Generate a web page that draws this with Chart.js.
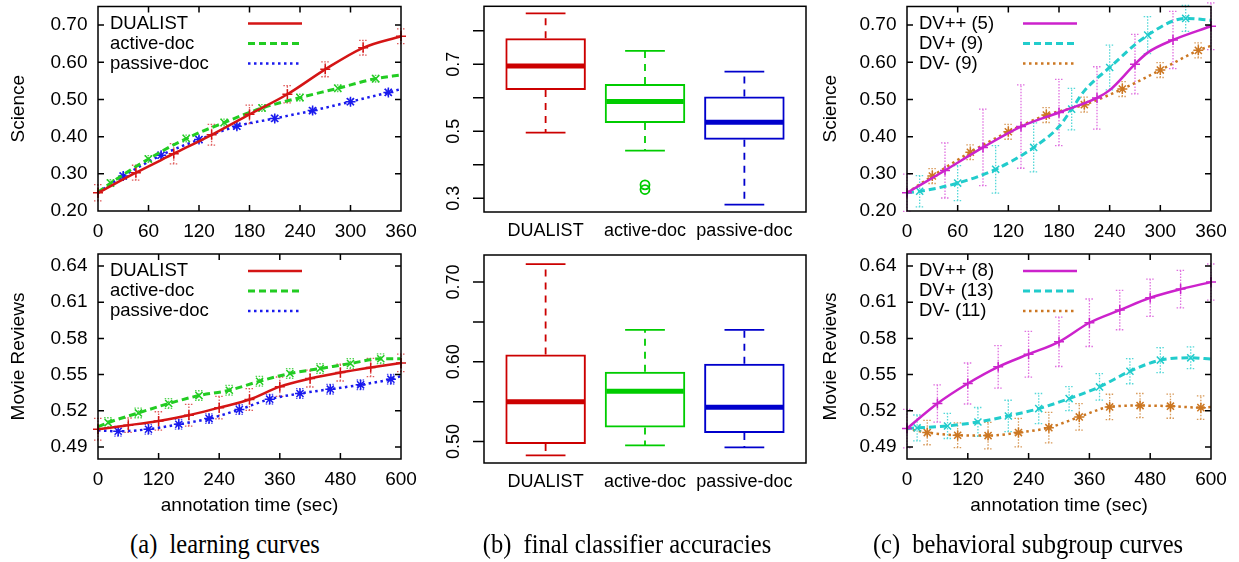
<!DOCTYPE html>
<html>
<head>
<meta charset="utf-8">
<script src="https://cdn.jsdelivr.net/npm/chart.js@4.4.0/dist/chart.umd.min.js"></script>
<style>
  body { margin: 0; background: #fff; width: 1239px; height: 562px; overflow: hidden; position: relative; }
  canvas { position: absolute; }
  .cap { position: absolute; top: 530px; font-family: "Liberation Serif", serif; font-size: 24.5px; white-space: nowrap; transform: translateX(-50%) scaleY(1.08); color: #000; }
</style>
</head>
<body>
<canvas id="sciCurves" width="430" height="245" style="left:0;top:0"></canvas>
<canvas id="movCurves" width="430" height="280" style="left:0;top:245px"></canvas>
<canvas id="sciBoxes" width="412" height="245" style="left:412px;top:0"></canvas>
<canvas id="movBoxes" width="412" height="280" style="left:412px;top:245px"></canvas>
<canvas id="sciGroups" width="427" height="245" style="left:812px;top:0"></canvas>
<canvas id="movGroups" width="427" height="280" style="left:812px;top:245px"></canvas>
<div class="cap" style="left:225px">(a)&nbsp; learning curves</div>
<div class="cap" style="left:627px">(b)&nbsp; final classifier accuracies</div>
<div class="cap" style="left:1028px">(c)&nbsp; behavioral subgroup curves</div>
<script>
// ---- tick labels ----
const sciTimeTicks = [0, 60, 120, 180, 240, 300, 360];
const movTimeTicks = [0, 120, 240, 360, 480, 600];
const sciAccTicks = [0.2, 0.3, 0.4, 0.5, 0.6, 0.7];
const movAccTicks = [0.49, 0.52, 0.55, 0.58, 0.61, 0.64];
const boxNames = ['DUALIST', 'active-doc', 'passive-doc'];
const sciBoxTicks = [0.3, 0.4, 0.5, 0.6, 0.7, 0.8];
const sciBoxTickLabels = ['0.3', '', '0.5', '', '0.7', ''];
const movBoxTicks = [0.50, 0.55, 0.60, 0.65, 0.70];
const movBoxTickLabels = ['0.50', '', '0.60', '', '0.70'];

// ---- (a) learning curves, Science ----
const sciDualX = [0, 45, 90, 135, 180, 225, 270, 315, 360];
const sciDualY = [0.249, 0.303, 0.354, 0.405, 0.460, 0.514, 0.581, 0.639, 0.670];
const sciDualErr = [0.022, 0.020, 0.027, 0.028, 0.025, 0.023, 0.020, 0.020, 0.020];
const sciActX = [0, 15, 60, 105, 150, 195, 240, 285, 330, 360];
const sciActY = [0.250, 0.275, 0.340, 0.395, 0.438, 0.477, 0.505, 0.530, 0.556, 0.566];
const sciActErr = [null, 0.009, 0.009, 0.009, 0.009, 0.009, 0.009, 0.009, 0.009, null];
const sciPasX = [0, 30, 75, 120, 165, 210, 255, 300, 345, 360];
const sciPasY = [0.250, 0.294, 0.350, 0.392, 0.428, 0.449, 0.470, 0.494, 0.519, 0.528];
const sciPasErr = [null, 0.008, 0.008, 0.008, 0.008, 0.008, 0.008, 0.008, 0.008, null];

// ---- (a) learning curves, Movie Reviews ----
const movDualX = [0, 60, 120, 180, 240, 300, 360, 420, 480, 540, 600];
const movDualY = [0.5047, 0.5080, 0.5116, 0.5163, 0.5226, 0.5293, 0.5400, 0.5467, 0.5517, 0.5559, 0.5597];
const movDualErr = [0.009, 0.006, 0.0076, 0.009, 0.0094, 0.009, 0.008, 0.007, 0.007, 0.0076, 0.0073];
const movActX = [0, 20, 80, 140, 200, 260, 320, 380, 440, 500, 560, 600];
const movActY = [0.5067, 0.5102, 0.5182, 0.5260, 0.5326, 0.5370, 0.5445, 0.5509, 0.5550, 0.5592, 0.5631, 0.5631];
const movActErr = [null, 0.004, 0.004, 0.004, 0.004, 0.004, 0.004, 0.004, 0.004, 0.004, 0.004, null];
const movPasX = [0, 40, 100, 160, 220, 280, 340, 400, 460, 520, 580, 600];
const movPasY = [0.5038, 0.5030, 0.5047, 0.5088, 0.5135, 0.5210, 0.5296, 0.5343, 0.5379, 0.5415, 0.5462, 0.5487];
const movPasErr = [null, 0.004, 0.004, 0.004, 0.004, 0.004, 0.004, 0.004, 0.004, 0.004, 0.004, null];

// ---- (b) final accuracies ----
const sciBoxMin = [0.496, 0.442, 0.281];
const sciBoxQ1 = [0.623, 0.525, 0.475];
const sciBoxMed = [0.695, 0.589, 0.527];
const sciBoxQ3 = [0.778, 0.641, 0.604];
const sciBoxMax = [0.852, 0.740, 0.678];
const sciOutX = [2, 2];
const sciOutY = [0.340, 0.326];
const movBoxMin = [0.4825, 0.495, 0.4925];
const movBoxQ1 = [0.4967, 0.5175, 0.5105];
const movBoxMed = [0.550, 0.563, 0.543];
const movBoxQ3 = [0.609, 0.5875, 0.5975];
const movBoxMax = [0.7226, 0.640, 0.640];

// ---- (c) subgroups, Science ----
const sciGppX = [0, 45, 90, 135, 180, 225, 240, 270, 285, 315, 360];
const sciGppY = [0.249, 0.309, 0.371, 0.427, 0.465, 0.504, 0.525, 0.595, 0.626, 0.660, 0.697];
const sciGppErr = [0.05, 0.074, 0.103, 0.112, 0.089, 0.084, null, 0.080, null, 0.077, 0.063];
const sciGpX = [0, 15, 60, 105, 150, 180, 195, 210, 240, 285, 330, 360];
const sciGpY = [0.249, 0.253, 0.275, 0.312, 0.371, 0.427, 0.474, 0.523, 0.586, 0.673, 0.718, 0.713];
const sciGpErr = [null, 0.042, 0.047, 0.064, 0.066, null, 0.056, null, 0.060, 0.050, 0.035, null];
const sciGmX = [0, 30, 75, 120, 165, 210, 255, 300, 345, 360];
const sciGmY = [0.249, 0.294, 0.358, 0.413, 0.458, 0.486, 0.528, 0.579, 0.632, 0.644];
const sciGmErr = [null, 0.02, 0.02, 0.02, 0.02, 0.02, 0.02, 0.02, 0.02, null];

// ---- (c) subgroups, Movie Reviews ----
const movGppX = [0, 60, 120, 180, 240, 300, 360, 420, 480, 540, 600];
const movGppY = [0.5052, 0.5260, 0.5426, 0.5564, 0.5669, 0.5772, 0.5930, 0.6035, 0.6137, 0.6209, 0.6267];
const movGppErr = [0.016, 0.0155, 0.017, 0.0177, 0.019, 0.0205, 0.0197, 0.0163, 0.0155, 0.0156, 0.015];
const movGpX = [0, 20, 80, 140, 200, 260, 320, 380, 440, 500, 560, 600];
const movGpY = [0.5052, 0.5058, 0.5074, 0.5107, 0.5157, 0.5218, 0.5301, 0.5398, 0.5528, 0.5620, 0.5639, 0.5628];
const movGpErr = [null, 0.0107, 0.0104, 0.012, 0.013, 0.0125, 0.010, 0.011, 0.0104, 0.0104, 0.009, null];
const movGmX = [0, 40, 100, 160, 220, 280, 340, 400, 460, 520, 580, 600];
const movGmY = [0.5052, 0.5019, 0.4997, 0.4994, 0.5019, 0.5060, 0.5149, 0.5232, 0.5243, 0.5238, 0.5226, 0.5232];
const movGmErr = [null, 0.0101, 0.0102, 0.011, 0.0118, 0.0126, 0.011, 0.0105, 0.010, 0.010, 0.0097, null];

Chart.defaults.font.family = '"Liberation Sans", Arial, sans-serif';
Chart.defaults.color = '#000';
Chart.defaults.animation = false;

const FONT = { size: 19 };

// error bars under the curves
const errorBars = {
  id: 'errorBars',
  beforeDatasetsDraw(chart) {
    const { ctx, scales: { x, y } } = chart;
    chart.data.datasets.forEach(ds => {
      if (!ds.errs) return;
      ctx.save();
      ctx.strokeStyle = ds.barColor;
      ctx.lineWidth = 1.3;
      ctx.setLineDash([1.5, 1.5]);
      ds.data.forEach((p, i) => {
        const e = ds.errs[i];
        if (e == null) return;
        const px = x.getPixelForValue(p.x);
        const lo = y.getPixelForValue(p.y - e);
        const hi = y.getPixelForValue(p.y + e);
        ctx.beginPath();
        ctx.moveTo(px, lo); ctx.lineTo(px, hi);
        ctx.moveTo(px - 4, lo); ctx.lineTo(px + 4, lo);
        ctx.moveTo(px - 4, hi); ctx.lineTo(px + 4, hi);
        ctx.stroke();
      });
      ctx.restore();
    });
  }
};

// gnuplot style border with ticks inside on all sides
const gnuFrame = {
  id: 'gnuFrame',
  afterDatasetsDraw(chart) {
    const { ctx, chartArea: a, scales: { x, y } } = chart;
    ctx.save();
    ctx.strokeStyle = '#000';
    ctx.lineWidth = 1.5;
    ctx.beginPath();
    x.ticks.forEach(t => {
      const px = x.getPixelForValue(t.value);
      if (px < a.left + 2 || px > a.right - 2) return;
      ctx.moveTo(px, a.bottom); ctx.lineTo(px, a.bottom - 6);
      ctx.moveTo(px, a.top); ctx.lineTo(px, a.top + 6);
    });
    y.ticks.forEach(t => {
      const py = y.getPixelForValue(t.value);
      if (py < a.top + 2 || py > a.bottom - 2) return;
      ctx.moveTo(a.left, py); ctx.lineTo(a.left + 6, py);
      ctx.moveTo(a.right, py); ctx.lineTo(a.right - 6, py);
    });
    ctx.stroke();
    ctx.strokeRect(a.left, a.top, a.right - a.left, a.bottom - a.top);
    ctx.restore();
  }
};

// key: text first, sample line after
const gnuKey = {
  id: 'gnuKey',
  afterDraw(chart, args, opts) {
    const { ctx, chartArea: a } = chart;
    ctx.save();
    ctx.font = '18.5px ' + Chart.defaults.font.family;
    ctx.textBaseline = 'middle';
    ctx.textAlign = 'left';
    chart.data.datasets.forEach((ds, i) => {
      const yy = a.top + 17 + 20 * i;
      ctx.fillStyle = '#000';
      ctx.fillText(ds.label, a.left + 12, yy);
      ctx.strokeStyle = ds.borderColor;
      ctx.lineWidth = ds.borderWidth;
      ctx.setLineDash(ds.borderDash || []);
      ctx.beginPath();
      ctx.moveTo(a.left + opts.x0, yy);
      ctx.lineTo(a.left + opts.x1, yy);
      ctx.stroke();
    });
    ctx.restore();
  }
};

function series(label, xs, ys, errs, color, barColor, dash, width, marker) {
  return {
    label,
    data: xs.map((x, i) => ({ x, y: ys[i] })),
    errs, barColor,
    borderColor: color,
    borderWidth: width,
    borderDash: dash,
    cubicInterpolationMode: 'monotone',
    pointStyle: marker,
    pointRadius: c => (errs[c.dataIndex] == null ? 0 : 5),
    pointBorderColor: color,
    pointBackgroundColor: color,
    pointBorderWidth: 1.5,
    fill: false,
    clip: false
  };
}

function curveChart(id, datasets, g) {
  return new Chart(document.getElementById(id), {
    type: 'line',
    data: { datasets },
    options: {
      responsive: false,
      events: [],
      layout: { padding: { left: 0, right: g.right, top: g.top, bottom: g.bottom } },
      scales: {
        x: {
          type: 'linear', min: 0, max: g.xTicks[g.xTicks.length - 1],
          afterBuildTicks: s => { s.ticks = g.xTicks.map(v => ({ value: v })); },
          afterFit: s => { s.height = g.xH; s.paddingLeft = 0; s.paddingRight = 0; },
          grid: { display: false, drawTicks: false },
          border: { display: false },
          ticks: { padding: 9, font: FONT, maxRotation: 0, autoSkip: false },
          title: { display: !!g.xTitle, text: g.xTitle || '', font: FONT, padding: { top: 0, bottom: 7.5 } }
        },
        y: {
          type: 'linear', min: g.yMin, max: g.yMax,
          afterBuildTicks: s => { s.ticks = g.yTicks.map(v => ({ value: v })); },
          afterFit: s => { s.width = g.yW; s.paddingTop = 0; s.paddingBottom = 0; },
          grid: { display: false, drawTicks: false },
          border: { display: false },
          ticks: { padding: 10.5, font: FONT, autoSkip: false, callback: v => v.toFixed(2) },
          title: { display: true, text: g.yTitle, font: FONT, padding: { top: 7, bottom: 0 } }
        }
      },
      plugins: { legend: { display: false }, tooltip: { enabled: false }, gnuKey: { x0: g.k0, x1: g.k1 } }
    },
    plugins: [errorBars, gnuFrame, gnuKey]
  });
}

// R style boxplot pieces: median, whiskers, staples, left axis, frame
const boxParts = {
  id: 'boxParts',
  afterDatasetsDraw(chart, args, o) {
    const { ctx, chartArea: a, scales: { x, y } } = chart;
    ctx.save();
    o.med.forEach((m, i) => {
      const c = i + 1;
      const col = o.colors[i];
      const xc = x.getPixelForValue(c);
      ctx.strokeStyle = col;
      ctx.setLineDash([]);
      ctx.lineWidth = 5;
      ctx.beginPath();
      ctx.moveTo(x.getPixelForValue(c - 0.4) + 1, y.getPixelForValue(m));
      ctx.lineTo(x.getPixelForValue(c + 0.4) - 1, y.getPixelForValue(m));
      ctx.stroke();
      ctx.lineWidth = 1.8;
      ctx.setLineDash([7, 6]);
      ctx.beginPath();
      ctx.moveTo(xc, y.getPixelForValue(o.q3[i])); ctx.lineTo(xc, y.getPixelForValue(o.max[i]));
      ctx.moveTo(xc, y.getPixelForValue(o.q1[i])); ctx.lineTo(xc, y.getPixelForValue(o.min[i]));
      ctx.stroke();
      ctx.setLineDash([]);
      ctx.beginPath();
      [o.max[i], o.min[i]].forEach(v => {
        ctx.moveTo(x.getPixelForValue(c - 0.2), y.getPixelForValue(v));
        ctx.lineTo(x.getPixelForValue(c + 0.2), y.getPixelForValue(v));
      });
      ctx.stroke();
    });
    ctx.strokeStyle = '#000';
    ctx.lineWidth = 1.5;
    ctx.strokeRect(a.left, a.top, a.right - a.left, a.bottom - a.top);
    ctx.fillStyle = '#000';
    ctx.font = '18px ' + Chart.defaults.font.family;
    ctx.textAlign = 'center';
    ctx.textBaseline = 'middle';
    ctx.beginPath();
    y.ticks.forEach(t => {
      const py = y.getPixelForValue(t.value);
      ctx.moveTo(a.left - 11, py); ctx.lineTo(a.left, py);
    });
    ctx.stroke();
    y.ticks.forEach((t, i) => {
      const lab = o.tickLabels[i];
      if (!lab) return;
      const py = y.getPixelForValue(t.value);
      ctx.save();
      ctx.translate(a.left - 30, py);
      ctx.rotate(-Math.PI / 2);
      ctx.fillText(lab, 0, 0);
      ctx.restore();
    });
    ctx.restore();
  }
};

const boxColors = ['#cc0000', '#00cc00', '#0000cc'];

function boxChart(id, b, g) {
  const datasets = [{
    type: 'bar',
    data: b.q1.map((q, i) => ({ x: i + 1, y: [q, b.q3[i]] })),
    borderColor: boxColors,
    backgroundColor: 'rgba(0,0,0,0)',
    borderWidth: 2,
    borderSkipped: false,
    barPercentage: 0.81,
    categoryPercentage: 1
  }];
  if (b.outX) {
    datasets.push({
      type: 'scatter',
      data: b.outX.map((x, i) => ({ x, y: b.outY[i] })),
      pointStyle: 'circle',
      pointRadius: 4.5,
      pointBorderWidth: 1.8,
      pointBorderColor: boxColors[1],
      pointBackgroundColor: 'rgba(0,0,0,0)'
    });
  }
  return new Chart(document.getElementById(id), {
    type: 'bar',
    data: { datasets },
    options: {
      responsive: false,
      events: [],
      layout: { padding: { left: 0, right: g.right, top: g.top, bottom: 0 } },
      scales: {
        x: {
          type: 'linear', min: 0.38, max: 3.62, offset: false,
          afterBuildTicks: s => { s.ticks = boxNames.map((n, i) => ({ value: i + 1 })); },
          afterFit: s => { s.height = g.xH; s.paddingLeft = 0; s.paddingRight = 0; },
          grid: { display: false, drawTicks: false },
          border: { display: false },
          ticks: { padding: 8, font: { size: 18 }, maxRotation: 0, autoSkip: false, callback: v => boxNames[v - 1] }
        },
        y: {
          type: 'linear', min: g.yMin, max: g.yMax,
          afterBuildTicks: s => { s.ticks = g.yTicks.map(v => ({ value: v })); },
          afterFit: s => { s.width = 72; s.paddingTop = 0; s.paddingBottom = 0; },
          grid: { display: false, drawTicks: false },
          border: { display: false },
          ticks: { display: false }
        }
      },
      plugins: {
        legend: { display: false }, tooltip: { enabled: false },
        boxParts: { med: b.med, q1: b.q1, q3: b.q3, min: b.min, max: b.max, colors: boxColors, tickLabels: g.tickLabels }
      }
    },
    plugins: [boxParts]
  });
}

// (a)
curveChart('sciCurves', [
  series('DUALIST', sciDualX, sciDualY, sciDualErr, '#d41515', '#e05a5a', [], 2.5, 'cross'),
  series('active-doc', sciActX, sciActY, sciActErr, '#22cc22', '#55d455', [7, 4], 3, 'crossRot'),
  series('passive-doc', sciPasX, sciPasY, sciPasErr, '#1a1aee', '#5a5af0', [2.5, 3.5], 2.5, 'star')
], { xTicks: sciTimeTicks, yTicks: sciAccTicks, yMin: 0.2, yMax: 0.75, yTitle: 'Science',
     right: 29, top: 5, bottom: 0, xH: 34, yW: 98, k0: 150, k1: 204 });

curveChart('movCurves', [
  series('DUALIST', movDualX, movDualY, movDualErr, '#d41515', '#e05a5a', [], 2.5, 'cross'),
  series('active-doc', movActX, movActY, movActErr, '#22cc22', '#55d455', [7, 4], 3, 'crossRot'),
  series('passive-doc', movPasX, movPasY, movPasErr, '#1a1aee', '#5a5af0', [2.5, 3.5], 2.5, 'star')
], { xTicks: movTimeTicks, yTicks: movAccTicks, yMin: 0.48, yMax: 0.65, yTitle: 'Movie Reviews',
     xTitle: 'annotation time (sec)', right: 29, top: 9, bottom: 0, xH: 66, yW: 98, k0: 150, k1: 204 });

// (b)
boxChart('sciBoxes', { min: sciBoxMin, q1: sciBoxQ1, med: sciBoxMed, q3: sciBoxQ3, max: sciBoxMax, outX: sciOutX, outY: sciOutY },
  { yMin: 0.259, yMax: 0.873, yTicks: sciBoxTicks, tickLabels: sciBoxTickLabels, right: 18, top: 5, xH: 33 });
boxChart('movBoxes', { min: movBoxMin, q1: movBoxQ1, med: movBoxMed, q3: movBoxQ3, max: movBoxMax },
  { yMin: 0.473, yMax: 0.734, yTicks: movBoxTicks, tickLabels: movBoxTickLabels, right: 18, top: 10, xH: 62 });

// (c)
curveChart('sciGroups', [
  series('DV++ (5)', sciGppX, sciGppY, sciGppErr, '#cc22cc', '#e070e0', [], 2.5, 'cross'),
  series('DV+ (9)', sciGpX, sciGpY, sciGpErr, '#22cccc', '#55d8d8', [7, 4], 3, 'crossRot'),
  series('DV- (9)', sciGmX, sciGmY, sciGmErr, '#cc7722', '#d89a5a', [2.5, 3.5], 2.5, 'star')
], { xTicks: sciTimeTicks, yTicks: sciAccTicks, yMin: 0.2, yMax: 0.75, yTitle: 'Science',
     right: 28, top: 5, bottom: 0, xH: 34, yW: 95, k0: 116, k1: 170 });

curveChart('movGroups', [
  series('DV++ (8)', movGppX, movGppY, movGppErr, '#cc22cc', '#e070e0', [], 2.5, 'cross'),
  series('DV+ (13)', movGpX, movGpY, movGpErr, '#22cccc', '#55d8d8', [7, 4], 3, 'crossRot'),
  series('DV- (11)', movGmX, movGmY, movGmErr, '#cc7722', '#d89a5a', [2.5, 3.5], 2.5, 'star')
], { xTicks: movTimeTicks, yTicks: movAccTicks, yMin: 0.48, yMax: 0.65, yTitle: 'Movie Reviews',
     xTitle: 'annotation time (sec)', right: 28, top: 9, bottom: 0, xH: 66, yW: 95, k0: 116, k1: 170 });
</script>
</body>
</html>
